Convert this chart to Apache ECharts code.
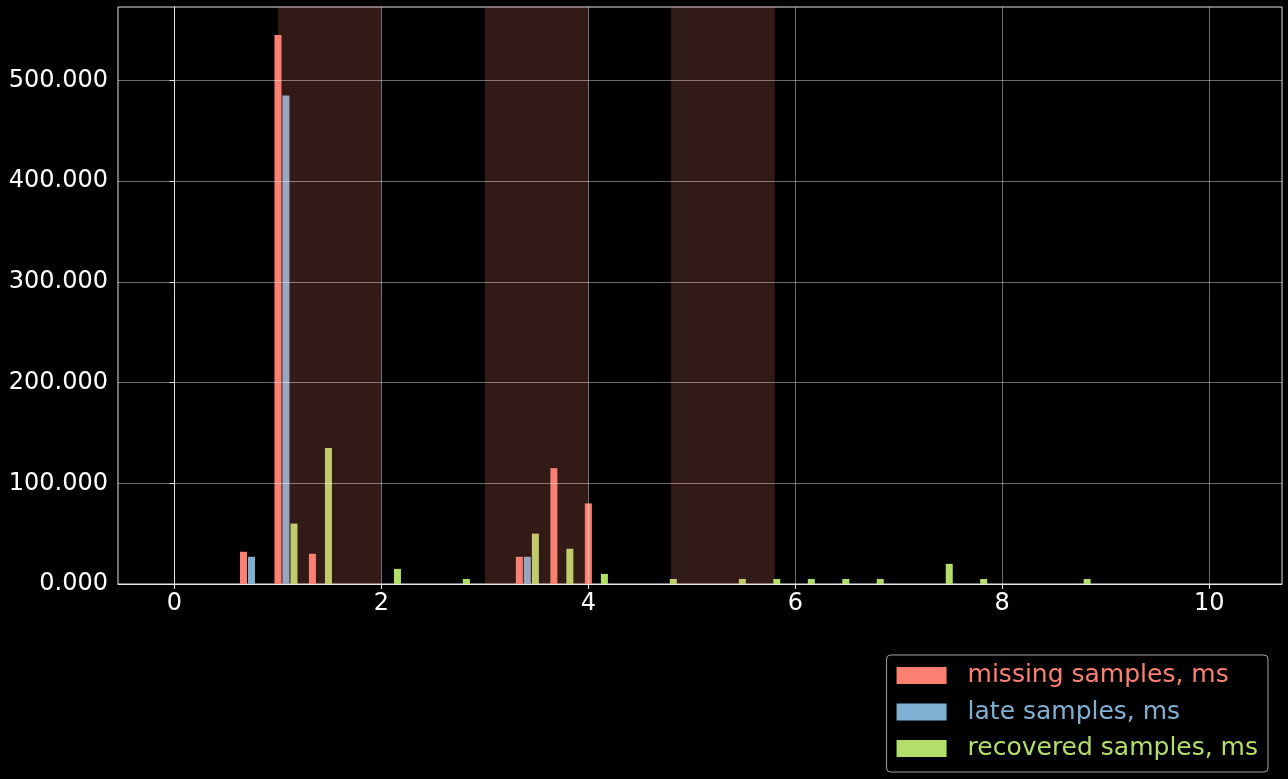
<!DOCTYPE html>
<html>
<head>
<meta charset="utf-8">
<title>samples histogram</title>
<script src="https://cdn.jsdelivr.net/npm/echarts@6/dist/echarts.min.js"></script>
<style>
  html, body { margin: 0; padding: 0; background: #000; }
  #chart { width: 1288px; height: 779px; }
</style>
</head>
<body>
<div id="chart"></div>
<script>
// values
const missingX = [0.667, 1.0, 1.333, 3.333, 3.667, 4.0];
const missingY = [32, 545, 30, 27, 115, 80];

const lateX = [0.744, 1.077, 3.41];
const lateY = [27, 485, 27];

const recoveredX = [1.155, 1.488, 2.155, 2.821, 3.488, 3.821, 4.155, 4.821,
  5.488, 5.821, 6.155, 6.488, 6.821, 7.488, 7.821, 8.821];
const recoveredY = [60, 135, 15, 5, 50, 35, 10, 5, 5, 5, 5, 5, 5, 20, 5, 5];

const spans = [[1, 2], [3, 4], [4.8, 5.8]];

const xTicks = [0, 2, 4, 6, 8, 10];
const yTicks = [0, 100, 200, 300, 400, 500];

const seriesNames = ["missing samples, ms", "late samples, ms", "recovered samples, ms"];
const seriesColors = ["#fb8072", "#80b1d3", "#b3de69"];

const font = "DejaVu Sans";

function pairs(xs, ys) {
  return xs.map((x, i) => [x, ys[i]]);
}

function barSeries(idx, xs, ys) {
  return {
    name: seriesNames[idx],
    type: "bar",
    data: pairs(xs, ys),
    barWidth: 7,
    barGap: "-100%",
    itemStyle: { color: seriesColors[idx] },
    z: 2,
  };
}

const chart = echarts.init(document.getElementById("chart"));

chart.setOption({
  animation: false,
  backgroundColor: "#000",
  grid: {
    left: 118, right: 6, top: 7, bottom: 195,
    show: true, borderColor: "#e6e6e6", borderWidth: 1,
  },
  xAxis: {
    type: "value",
    min: -0.546,
    max: 10.704,
    z: 4,
    axisLine: { show: true, lineStyle: { color: "#e6e6e6", width: 1 } },
    axisTick: { show: true, length: 5, lineStyle: { color: "#e6e6e6" }, customValues: xTicks },
    axisLabel: {
      customValues: xTicks,
      color: "#fff", fontFamily: font, fontSize: 24, lineHeight: 24, margin: 8,
    },
    splitLine: { show: true, lineStyle: { color: "rgba(255,255,255,0.42)", width: 1 } },
  },
  yAxis: {
    type: "value",
    min: 0,
    max: 572.8,
    z: 4,
    axisLine: { show: true, lineStyle: { color: "#e6e6e6", width: 1 } },
    axisTick: { show: true, length: 5, lineStyle: { color: "#e6e6e6" }, customValues: yTicks },
    axisLabel: {
      customValues: yTicks,
      color: "#fff", fontFamily: font, fontSize: 24, margin: 10,
      formatter: (v) => v.toFixed(3),
    },
    splitLine: { show: true, lineStyle: { color: "rgba(255,255,255,0.42)", width: 1 } },
  },
  legend: {
    orient: "vertical",
    right: 20,
    top: 655,
    padding: [8, 10, 11, 10],
    itemWidth: 50,
    itemHeight: 17,
    itemGap: 11.5,
    icon: "rect",
    backgroundColor: "#000",
    borderColor: "#a3a3a3",
    borderWidth: 1,
    borderRadius: 4,
    textStyle: { fontFamily: font, fontSize: 25, lineHeight: 25, padding: [0, 0, 0, 16] },
    data: seriesNames.map((n, i) => ({ name: n, textStyle: { color: seriesColors[i] } })),
  },
  series: [
    barSeries(0, missingX, missingY),
    barSeries(1, lateX, lateY),
    barSeries(2, recoveredX, recoveredY),
    {
      name: "spans",
      type: "line",
      data: [],
      silent: true,
      z: 3,
      markArea: {
        silent: true,
        z: 3,
        itemStyle: { color: "rgba(251,128,114,0.2)" },
        data: spans.map(([a, b]) => [{ xAxis: a }, { xAxis: b }]),
      },
    },
  ],
});
</script>
</body>
</html>
